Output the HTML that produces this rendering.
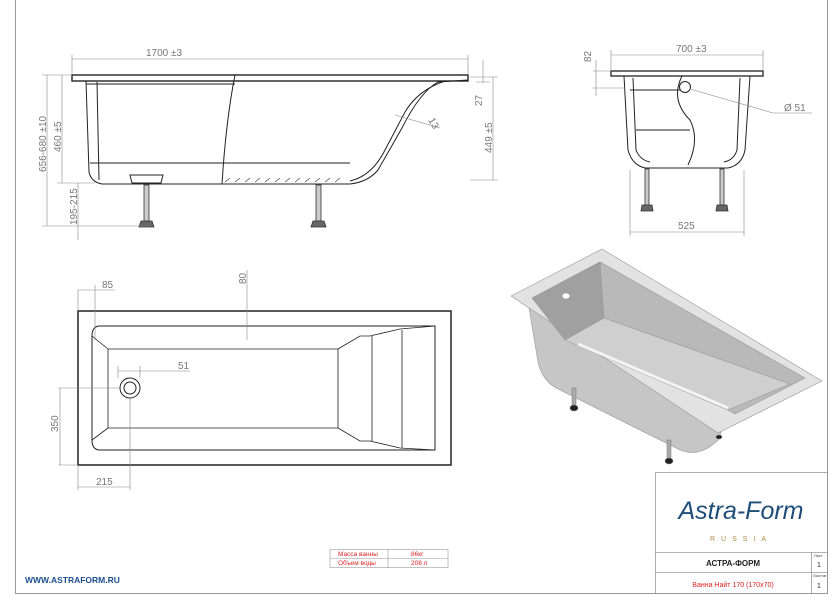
<!DOCTYPE html>
<html><head><meta charset="utf-8"><style>
body{margin:0;background:#fff}
svg{display:block}
text{font-family:"Liberation Sans","DejaVu Sans",sans-serif}
</style></head><body>
<svg width="840" height="600" viewBox="0 0 840 600" xmlns="http://www.w3.org/2000/svg">
<rect width="840" height="600" fill="#fff"/>
<path d="M15.5 0 V593.5 H827.5 V0" fill="none" stroke="#999" stroke-width="1"/>

<!-- SIDE VIEW -->
<g stroke="#222" fill="none" stroke-width="1">
<rect x="72" y="75" width="396" height="6" fill="#fff" stroke-width="1.4"/>
<path d="M86 81 L89 172 Q91 182 102 184 L350 184 Q368 182 378 170 L402 128 Q420 92 438 82 L468 80"/>
<path d="M97 82 L99 180"/>
<path d="M86 84 H235 M235 75 Q226 120 222 184"/>
<path d="M90 163 H350"/>
<path d="M350 181 Q372 176 385 150 L405 112 Q418 90 445 81"/>
<path d="M130 175 h33 l-2 8 h-29z"/>
</g>
<g stroke="#444" stroke-width="0.7">
<path d="M225 182 l5 -4 M235 182 l5 -4 M245 182 l5 -4 M255 182 l5 -4 M265 182 l5 -4 M275 182 l5 -4 M285 182 l5 -4 M295 182 l5 -4 M305 182 l5 -4 M315 182 l5 -4 M325 182 l5 -4 M335 182 l5 -4"/>
</g>
<g fill="#ccc" stroke="#333" stroke-width="0.8">
<rect x="144" y="185" width="5" height="36"/><path d="M141 221 h11 l2 6 h-15z" fill="#666"/>
<rect x="316" y="185" width="5" height="36"/><path d="M313 221 h11 l2 6 h-15z" fill="#666"/>
</g>
<g stroke="#888" stroke-width="0.6" fill="none">
<path d="M72 59 H468 M72 75 V55 M468 75 V55"/>
<path d="M47 75 V226 M62 75 V183 M78 183 V240 M42 75 H72 M42 226 H150 M57 183 H95 M493 77 V180 M483 60 V83 M470 77 H498 M470 180 H498 M476 82 H490"/>
<path d="M395 115 L440 128"/>
</g>
<g fill="#777" font-size="10">
<text x="146" y="56">1700 ±3</text>
<text transform="translate(46,172) rotate(-90)">656-680 ±10</text>
<text transform="translate(61,152) rotate(-90)">460 ±5</text>
<text transform="translate(77,225) rotate(-90)">195-215</text>
<text transform="translate(492,153) rotate(-90)">449 ±5</text>
<text transform="translate(482,106) rotate(-90)">27</text>
<text transform="translate(428,120) rotate(60)">13</text>
</g>

<!-- END VIEW -->
<g stroke="#222" fill="none" stroke-width="1">
<rect x="611" y="71" width="152" height="5" fill="#fff" stroke-width="1.3"/>
<path d="M624 76 L628 150 Q632 165 645 168 L728 168 Q742 165 745 150 L750 76"/>
<path d="M633 78 L636 150 Q640 160 650 162 M740 78 L737 150 Q734 160 724 162"/>
<path d="M682 76 Q670 100 690 120 Q700 140 688 165"/>
<path d="M630 90 H680 M636 130 H690"/>
<circle cx="685" cy="87" r="5.5"/>
</g>
<g fill="#ccc" stroke="#333" stroke-width="0.8">
<rect x="645" y="169" width="4" height="36"/><path d="M642 205 h10 l1 6 h-12z" fill="#666"/>
<rect x="720" y="169" width="4" height="36"/><path d="M717 205 h10 l1 6 h-12z" fill="#666"/>
</g>
<g stroke="#888" stroke-width="0.6" fill="none">
<path d="M611 55 H763 M611 71 V50 M763 71 V50 M630 232 H744 M630 170 V236 M744 170 V236"/>
<path d="M593 71 H611 M593 88 H625 M596 60 V96 M690 89 L773 113 H812"/>
</g>
<g fill="#777" font-size="10">
<text x="676" y="52">700 ±3</text>
<text x="678" y="229">525</text>
<text transform="translate(591,62) rotate(-90)">82</text>
<text x="784" y="111">Ø 51</text>
</g>

<!-- TOP VIEW -->
<g stroke="#222" fill="none">
<rect x="78" y="311" width="373" height="154" stroke-width="1.5"/>
<path d="M100 326 H435 V450 H100 Q92 450 92 440 V336 Q92 326 100 326Z" stroke-width="1"/>
<path d="M108 349 H338 M108 428 H338 M108 349 V428 M338 349 V428 M338 349 L360 336 H370 L400 329 L435 326 M338 428 L360 441 H370 L400 448 L435 450 M372 336 V441 M402 330 V448 M92 336 L108 349 M92 440 L108 428" stroke-width="0.8"/>
<circle cx="130" cy="388" r="10" stroke-width="1"/><circle cx="130" cy="388" r="6"/>
</g>
<g stroke="#888" stroke-width="0.6" fill="none">
<path d="M78 290 H95 M95 285 V340 M78 290 V311 M95 290 H115"/>
<path d="M247 270 V340"/>
<path d="M118 371 H190 M118 366 V378 M140 366 V378"/>
<path d="M58 388 H120 M60 388 V465 M58 465 H78 M78 465 V490 M130 398 V490 M78 487 H130"/>
</g>
<g fill="#777" font-size="10">
<text x="102" y="288">85</text>
<text transform="translate(246,284) rotate(-90)">80</text>
<text x="178" y="369">51</text>
<text transform="translate(58,432) rotate(-90)">350</text>
<text x="96" y="485">215</text>
</g>

<!-- ISO VIEW -->
<g stroke="#999" stroke-width="0.6">
<!-- body front wall -->
<path d="M529 308 L722 430 L718 440 Q700 458 680 450 L556 388 Q542 380 538 362 Z" fill="#c6c6c6"/>
<!-- rim -->
<path d="M511 296 L602 249 L822 381 L718 433 Z" fill="#e2e2e2"/>
<!-- cavity: far long wall -->
<path d="M532 298 L600 262 L805 378 L735 414 Z" fill="#b9b9b9"/>
<!-- left short wall -->
<path d="M532 298 L600 262 L604 318 L565 340 Z" fill="#a0a0a0"/>
<!-- floor -->
<path d="M565 340 L604 318 L790 384 L728 410 Z" fill="#cfcfcf"/>
<path d="M578 344 L728 408" stroke="#f4f4f4" stroke-width="3"/>
<ellipse cx="566" cy="296" rx="4" ry="3" fill="#fff"/>
</g>
<g fill="#aaa" stroke="#777" stroke-width="0.5">
<rect x="572" y="388" width="4" height="18"/><ellipse cx="574" cy="408" rx="4" ry="3" fill="#222"/>
<rect x="667" y="440" width="4" height="19"/><ellipse cx="669" cy="461" rx="4" ry="3" fill="#222"/>
<ellipse cx="719" cy="437" rx="3" ry="2" fill="#222"/>
</g>

<!-- TITLE BLOCK -->
<g stroke="#999" stroke-width="0.8" fill="none">
<rect x="655.5" y="472.5" width="172" height="121"/>
<path d="M655 552.5 H828 M655 572.5 H828 M811.5 552 V594"/>
</g>
<text x="741" y="519" text-anchor="middle" font-family="Liberation Serif,serif" font-style="italic" font-size="25" fill="#1f4e79">Astra-Form</text>
<text x="741" y="541" text-anchor="middle" font-size="7" fill="#b08a4a" letter-spacing="6">RUSSIA</text>
<text x="733" y="566" text-anchor="middle" font-size="8" font-weight="bold" fill="#222">АСТРА-ФОРМ</text>
<text x="733" y="587" text-anchor="middle" font-size="7" fill="#d22">Ванна Найт 170 (170x70)</text>
<g font-size="4" fill="#444"><text x="814" y="557">Лист</text><text x="813" y="577">Листов</text></g>
<g font-size="7" fill="#222"><text x="817" y="567">1</text><text x="817" y="588">1</text></g>

<g stroke="#999" stroke-width="0.6" fill="none">
<rect x="330" y="549.5" width="118" height="18"/><path d="M330 558.5 H448 M388 549 V568"/>
</g>
<g font-size="6.5" fill="#d22"><text x="338" y="556">Масса ванны</text><text x="338" y="565">Объем воды</text>
<text x="411" y="556">86кг</text><text x="411" y="565">208 л</text></g>

<text x="25" y="583" font-size="8.5" font-weight="bold" fill="#1f4e8f">WWW.ASTRAFORM.RU</text>
</svg>
</body></html>
